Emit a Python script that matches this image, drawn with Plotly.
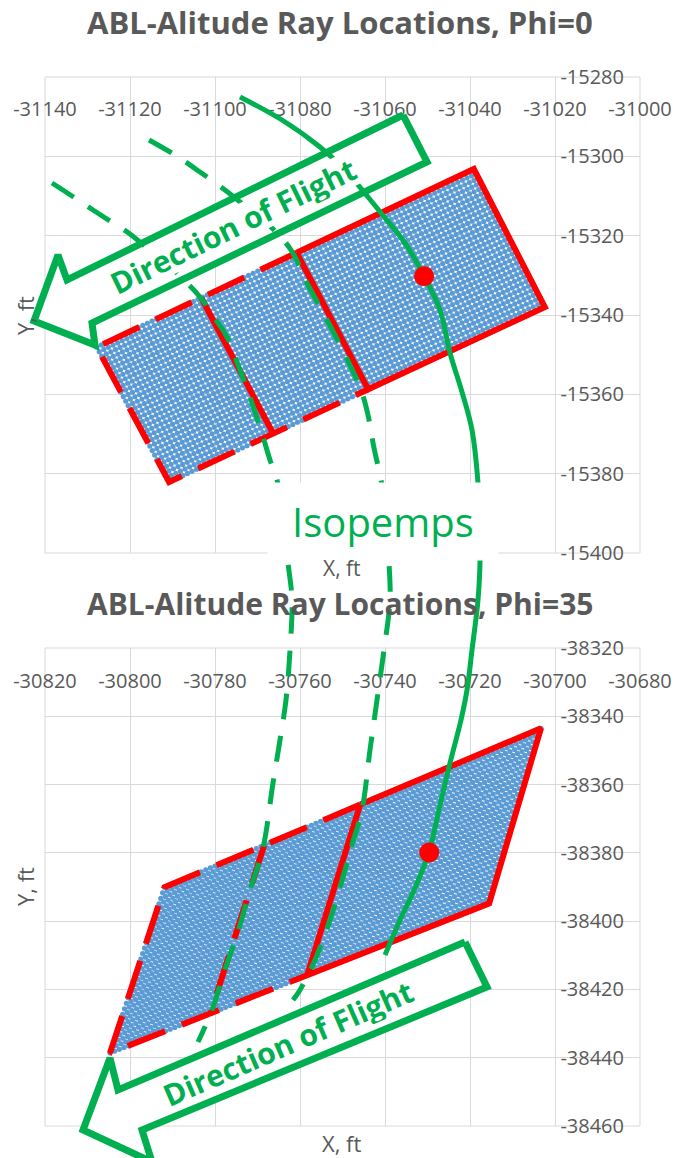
import numpy as np
import plotly.graph_objects as go

W, H = 677, 1158

# ---------------- Phi = 0 panel ----------------
phi0_title = "ABL-Alitude Ray Locations, Phi=0"
phi0_x_ticks = [-31140, -31120, -31100, -31080, -31060, -31040, -31020, -31000]
phi0_x_labels = ["-31140", "-31120", "-31100", "-31080", "-31060", "-31040", "-31020", "-31000"]
phi0_y_ticks = [-15400, -15380, -15360, -15340, -15320, -15300, -15280]
phi0_y_labels = ["-15400", "-15380", "-15360", "-15340", "-15320", "-15300", "-15280"]
# ray footprint corners: upper-left, upper-right, lower-right, lower-left
phi0_corner_x = [-31127.8, -31039.1, -31022.4, -31110.8]
phi0_corner_y = [-15348.1, -15303.2, -15338.0, -15382.1]
phi0_split = [0.277, 0.53]          # sub-aperture boundaries along the long side
phi0_aim_x = [-31050.8]
phi0_aim_y = [-15330.2]

# ---------------- Phi = 35 panel ----------------
phi35_title = "ABL-Alitude Ray Locations, Phi=35"
phi35_x_ticks = [-30820, -30800, -30780, -30760, -30740, -30720, -30700, -30680]
phi35_x_labels = ["-30820", "-30800", "-30780", "-30760", "-30740", "-30720", "-30700", "-30680"]
phi35_y_ticks = [-38460, -38440, -38420, -38400, -38380, -38360, -38340, -38320]
phi35_y_labels = ["-38460", "-38440", "-38420", "-38400", "-38380", "-38360", "-38340", "-38320"]
phi35_corner_x = [-30791.9, -30703.3, -30715.5, -30804.7]
phi35_corner_y = [-38390.1, -38343.5, -38394.8, -38438.6]
phi35_split = [0.265, 0.52]
phi35_aim_x = [-30729.6]
phi35_aim_y = [-38379.9]

rays_long = 83
rays_short = 31

# ---------------- sketch overlay (page units, spanning both panels) ----------------
iso_solid_x = [240, 282, 320, 345, 368, 381, 405, 424, 440, 450, 462, 472, 478, 480, 480,
               478, 472, 467, 461, 450, 440, 429, 415, 400, 385]
iso_solid_y = [97, 120, 147, 170, 197, 213, 243, 276, 310, 353, 392, 430, 483, 530, 563,
               600, 650, 690, 720, 763, 805, 852, 888, 920, 955]
iso_mid_x = [149, 175, 200, 225, 250, 272, 291, 308, 326, 346, 361, 368, 374, 381, 386,
             389, 390, 384, 377, 370, 362, 352, 343, 330, 315, 300, 293]
iso_mid_y = [140, 155, 172, 190, 210, 228, 250, 285, 318, 357, 390, 415, 448, 480, 520,
             563, 600, 650, 700, 750, 810, 845, 877, 920, 960, 990, 1000]
iso_left_x = [52, 72, 93, 113, 130, 147, 165, 183, 200, 214, 227, 240, 252, 263, 270,
              277, 283, 288, 292, 290, 286, 280, 273, 263, 250, 237, 224, 212, 198]
iso_left_y = [183, 196, 210, 223, 234, 248, 262, 279, 297, 317, 337, 370, 403, 437, 460,
              480, 520, 563, 600, 650, 700, 740, 783, 848, 890, 935, 972, 1010, 1042]

arrow_top_x = [403, 67, 58, 34, 95, 92, 427, 403]
arrow_top_y = [115, 280, 255, 321, 345, 323, 162, 115]
arrow_bot_x = [465, 118, 110, 83, 152, 142, 487, 465]
arrow_bot_y = [942, 1090, 1058, 1130, 1162, 1130, 987, 942]

GREEN = "#00B050"
RED = "#FF0000"
BLUE = "#5B9BD5"
GRID = "#D9D9D9"
TEXT = "#595959"
FONT = "Open Sans"


def quad_point(cx, cy, u, v):
    """Bilinear point inside the corner quadrilateral (u along long side, v across)."""
    top_x = (1 - u) * cx[0] + u * cx[1]
    top_y = (1 - u) * cy[0] + u * cy[1]
    bot_x = (1 - u) * cx[3] + u * cx[2]
    bot_y = (1 - u) * cy[3] + u * cy[2]
    return (1 - v) * top_x + v * bot_x, (1 - v) * top_y + v * bot_y


def ray_grid(cx, cy):
    u, v = np.meshgrid(np.linspace(0, 1, rays_long), np.linspace(0, 1, rays_short))
    x, y = quad_point(cx, cy, u, v)
    return x.ravel(), y.ravel()


def path(cx, cy, uv):
    pts = [quad_point(cx, cy, u, v) for u, v in uv]
    return [p[0] for p in pts], [p[1] for p in pts]


fig = go.Figure()


def add_panel(cx, cy, split, xa, ya, middle_solid):
    gx, gy = ray_grid(cx, cy)
    fig.add_trace(go.Scatter(x=gx, y=gy, mode="markers", xaxis=xa, yaxis=ya,
                             marker=dict(size=5.2, color=BLUE, line=dict(width=0)),
                             hoverinfo="skip", showlegend=False))
    s1, s2 = split
    # trailing part of the footprint, dashed
    dx, dy = path(cx, cy, [(s2, 0), (0, 0), (0, 1), (s2, 1)])
    fig.add_trace(go.Scatter(x=dx, y=dy, mode="lines", xaxis=xa, yaxis=ya,
                             line=dict(color=RED, width=6, dash="40px,18px"),
                             hoverinfo="skip", showlegend=False))
    # middle boundary
    mx, my = path(cx, cy, [(s1, 0), (s1, 1)])
    fig.add_trace(go.Scatter(x=mx, y=my, mode="lines", xaxis=xa, yaxis=ya,
                             line=dict(color=RED, width=6,
                                       dash="solid" if middle_solid else "40px,18px"),
                             hoverinfo="skip", showlegend=False))
    # leading part, solid
    sx, sy = path(cx, cy, [(s2, 0), (1, 0), (1, 1), (s2, 1), (s2, 0)])
    fig.add_trace(go.Scatter(x=sx, y=sy, mode="lines", xaxis=xa, yaxis=ya,
                             line=dict(color=RED, width=6),
                             hoverinfo="skip", showlegend=False))


add_panel(phi0_corner_x, phi0_corner_y, phi0_split, "x", "y", True)
add_panel(phi35_corner_x, phi35_corner_y, phi35_split, "x2", "y2", False)

# sketch layer: flight-direction arrows and isotemp curves
for ax_, ay_ in [(arrow_top_x, arrow_top_y), (arrow_bot_x, arrow_bot_y)]:
    fig.add_trace(go.Scatter(x=ax_, y=ay_, mode="lines", fill="toself", fillcolor="white",
                             line=dict(color=GREEN, width=7), xaxis="x3", yaxis="y3",
                             hoverinfo="skip", showlegend=False))
for cx_, cy_, dash in [(iso_left_x, iso_left_y, "26px,17px"),
                       (iso_mid_x, iso_mid_y, "26px,17px"),
                       (iso_solid_x, iso_solid_y, "solid")]:
    fig.add_trace(go.Scatter(x=cx_, y=cy_, mode="lines", line=dict(color=GREEN, width=5,
                                                                    dash=dash, shape="spline"),
                             xaxis="x3", yaxis="y3", hoverinfo="skip", showlegend=False))

# aim points, drawn on top of the curves
fig.add_trace(go.Scatter(x=phi0_aim_x, y=phi0_aim_y, mode="markers", xaxis="x4", yaxis="y4",
                         marker=dict(size=20, color=RED), hoverinfo="skip", showlegend=False))
fig.add_trace(go.Scatter(x=phi35_aim_x, y=phi35_aim_y, mode="markers", xaxis="x5", yaxis="y5",
                         marker=dict(size=20, color=RED), hoverinfo="skip", showlegend=False))

# ---------------- layout ----------------
x_dom = [45 / W, 640 / W]
top_dom = [1 - 553 / H, 1 - 77 / H]
bot_dom = [1 - 1126 / H, 1 - 648 / H]
tick_font = dict(family=FONT, size=20, color=TEXT)


def x_axis(rng, ticks, labels, pos):
    return dict(domain=x_dom, range=rng, tickvals=ticks, ticktext=labels, showgrid=True,
                gridcolor=GRID, gridwidth=1, zeroline=False, showline=False, ticks="",
                anchor="free", position=pos, side="bottom", tickfont=tick_font,
                fixedrange=True)


def y_axis(dom, rng, ticks, labels):
    return dict(domain=dom, range=rng, tickvals=ticks, ticktext=labels, showgrid=True,
                gridcolor=GRID, gridwidth=1, zeroline=False, showline=False, ticks="",
                anchor="free", position=624 / W, side="left", tickfont=tick_font,
                fixedrange=True)


hidden = dict(visible=False, fixedrange=True)

fig.update_layout(
    width=W, height=H, autosize=False,
    margin=dict(l=0, r=0, t=0, b=0, pad=0),
    paper_bgcolor="white", plot_bgcolor="rgba(0,0,0,0)",
    template="none", showlegend=False,
    xaxis=x_axis([-31140, -31000], phi0_x_ticks, phi0_x_labels, 1 - 95 / H),
    yaxis=y_axis(top_dom, [-15400, -15280], phi0_y_ticks, phi0_y_labels),
    xaxis2=x_axis([-30820, -30680], phi35_x_ticks, phi35_x_labels, 1 - 667 / H),
    yaxis2=y_axis(bot_dom, [-38460, -38320], phi35_y_ticks, phi35_y_labels),
    xaxis3=dict(domain=[0, 1], range=[0, W], anchor="y3", **hidden),
    yaxis3=dict(domain=[0, 1], range=[H, 0], anchor="x3", **hidden),
    xaxis4=dict(domain=x_dom, range=[-31140, -31000], anchor="y4", **hidden),
    yaxis4=dict(domain=top_dom, range=[-15400, -15280], anchor="x4", **hidden),
    xaxis5=dict(domain=x_dom, range=[-30820, -30680], anchor="y5", **hidden),
    yaxis5=dict(domain=bot_dom, range=[-38460, -38320], anchor="x5", **hidden),
)

# plot-area borders
for xr, yr in [("x", "y"), ("x2", "y2")]:
    fig.add_shape(type="rect", xref=f"{xr} domain", yref=f"{yr} domain", x0=0, x1=1, y0=0, y1=1,
                  line=dict(color=GRID, width=1), fillcolor="rgba(0,0,0,0)", layer="below")


def note(text, x, y, size, color=TEXT, weight="normal", angle=0, **kw):
    fig.add_annotation(text=text, x=x, y=y, xref="x3", yref="y3", showarrow=False,
                       xanchor="center", yanchor="middle", textangle=angle,
                       font=dict(family=FONT, size=size, color=color, weight=weight), **kw)


# the isotemp label box goes first so the axis title stays readable above it
note("Isopemps", 383, 521, 40, color=GREEN, bgcolor="white", width=230, height=77, borderpad=0)
note(phi0_title, 340, 22, 31, weight="bold")
note(phi35_title, 340, 603, 30, weight="bold")
note("X, ft", 342, 568, 21)
note("X, ft", 342, 1143, 22)
note("Y, ft", 25, 316, 22, angle=-90)
note("Y, ft", 25, 887, 22, angle=-90)
note("Direction of Flight", 233, 226, 30, color=GREEN, weight="bold", angle=-26,
     bgcolor="white", width=282, height=34, borderpad=0)
note("Direction of Flight", 288, 1043, 30, color=GREEN, weight="bold", angle=-23.5,
     bgcolor="white", width=282, height=34, borderpad=0)

fig.write_html("out.html")
